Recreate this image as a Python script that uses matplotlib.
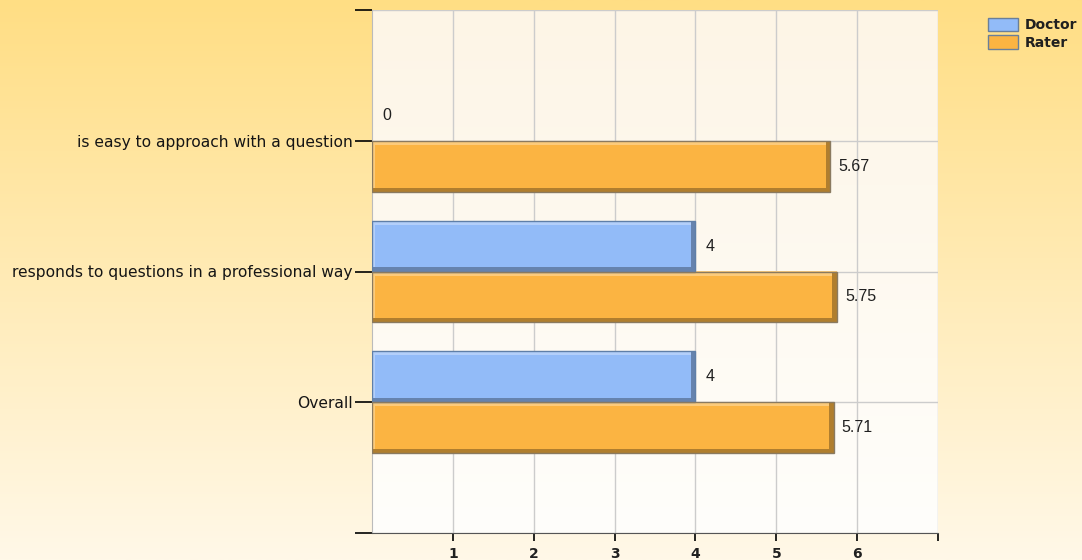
import matplotlib.pyplot as plt
import matplotlib.colors as mcolors
import numpy as np
from matplotlib.patches import Rectangle, Patch

# Chart data
categories = ["Overall", "responds to questions in a professional way",
              "is easy to approach with a question"]
doctor = [4, 4, 0]
rater = [5.71, 5.75, 5.67]
value_labels_doctor = ["4", "4", "0"]
value_labels_rater = ["5.71", "5.75", "5.67"]

doctor_color = "#92BBF8"
rater_color = "#FBB442"
bar_h = 0.39

fig = plt.figure(figsize=(10.82, 5.60), dpi=100)

# figure background gradient
bg = fig.add_axes([0, 0, 1, 1], zorder=-10)
grad = np.linspace(0, 1, 256).reshape(-1, 1)
cmap_bg = mcolors.LinearSegmentedColormap.from_list("bg", ["#FFDE84", "#FFF8E8"])
bg.imshow(grad, aspect="auto", cmap=cmap_bg, extent=[0, 1, 0, 1], origin="upper")
bg.axis("off")

ax = fig.add_axes([372 / 1082, 27 / 560, 566 / 1082, 523 / 560])
ax.set_xlim(0, 7)
ax.set_ylim(-1, 3)

# plot area gradient
cmap_ax = mcolors.LinearSegmentedColormap.from_list("ax", ["#FDF5E6", "#FFFEFB"])
ax.imshow(grad, aspect="auto", cmap=cmap_ax, extent=[0, 7, -1, 3], origin="upper", zorder=0)


def lighten(c, f):
    r = np.array(mcolors.to_rgb(c))
    return tuple(r + (1 - r) * f)


def darken(c, f):
    r = np.array(mcolors.to_rgb(c))
    return tuple(r * (1 - f))


def bevel_bar(y0, v, color, edge):
    if v <= 0:
        return
    ax.add_patch(Rectangle((0, y0), v, bar_h, facecolor=color, edgecolor="none", zorder=3))
    bh = 0.032
    bw = 0.06
    # top/left highlight, bottom/right shadow
    ax.add_patch(Rectangle((0, y0 + bar_h - bh), v, bh, facecolor=lighten(color, 0.3),
                           edgecolor="none", zorder=4))
    ax.add_patch(Rectangle((0, y0), bw * 0.6, bar_h, facecolor=lighten(color, 0.3),
                           edgecolor="none", zorder=4))
    ax.add_patch(Rectangle((0, y0), v, bh, facecolor=darken(color, 0.3),
                           edgecolor="none", zorder=5))
    ax.add_patch(Rectangle((v - bw, y0), bw, bar_h, facecolor=darken(color, 0.3),
                           edgecolor="none", zorder=5))
    ax.add_patch(Rectangle((0, y0), v, bar_h, facecolor="none", edgecolor=edge,
                           linewidth=1, zorder=6))


pos = np.arange(len(categories))
for i in pos:
    bevel_bar(i, doctor[i], doctor_color, "#5F7FA8")
    bevel_bar(i - bar_h, rater[i], rater_color, "#8A7A60")
    ax.text(doctor[i] + 0.13, i + bar_h / 2, value_labels_doctor[i], va="center", ha="left",
            fontsize=11.5, family="Liberation Sans", color="#202020", zorder=7)
    ax.text(rater[i] + 0.1, i - bar_h / 2, value_labels_rater[i], va="center", ha="left",
            fontsize=11.5, family="Liberation Sans", color="#202020", zorder=7)

# grid
ax.set_xticks(range(1, 8))
ax.set_xticklabels(["1", "2", "3", "4", "5", "6", ""])
ax.set_yticks([-1, 0, 1, 2, 3])
ax.set_yticklabels([""] + categories + [""])
ax.grid(True, color="#CCCCCC", linewidth=1, zorder=1)
ax.set_axisbelow(True)

for s in ["top", "right"]:
    ax.spines[s].set_visible(False)
ax.spines["left"].set_color("#BBBBBB")
ax.spines["bottom"].set_color("#555555")
ax.tick_params(axis="y", length=12, width=1.2, color="black", labelsize=11.2, pad=2)
ax.tick_params(axis="x", length=6, width=1.2, color="black", labelsize=10, pad=4)
for t in ax.get_xticklabels():
    t.set_fontweight("bold")
    t.set_color("#202020")
for t in ax.get_yticklabels():
    t.set_color("#151515")

handles = [Patch(facecolor=doctor_color, edgecolor="#6A7F99", label="Doctor"),
           Patch(facecolor=rater_color, edgecolor="#6A7F99", label="Rater")]
leg = fig.legend(handles=handles, loc="upper left", bbox_to_anchor=(982 / 1082, 1 - 12 / 560),
                 frameon=False, fontsize=10, handlelength=2.2, handleheight=1.1,
                 handletextpad=0.5, borderaxespad=0, labelspacing=0.25)
for t in leg.get_texts():
    t.set_fontweight("bold")
    t.set_color("#202020")

fig.savefig("out.png", dpi=100)
